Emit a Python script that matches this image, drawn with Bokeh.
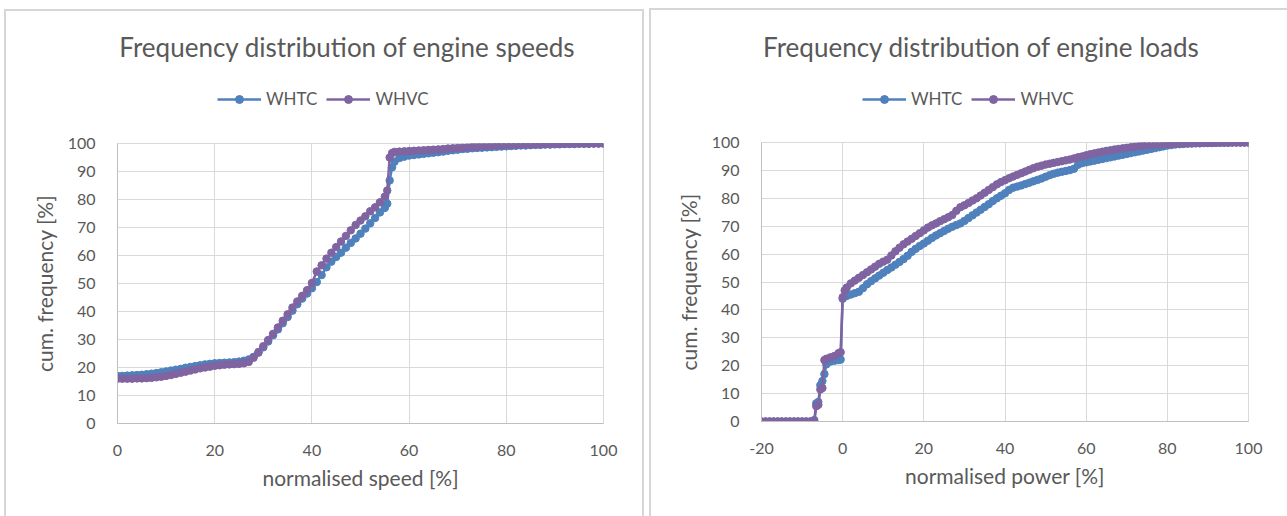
from bokeh.plotting import figure
from bokeh.layouts import row, column
from bokeh.models import (Range1d, SingleIntervalTicker, Legend, LegendItem, Label,
                          InlineStyleSheet)
from bokeh.embed import file_html
from bokeh.resources import INLINE

# ---------------- data ----------------
series_names = ["WHTC", "WHVC"]
titles = ["Frequency distribution of engine speeds", "Frequency distribution of engine loads"]
x_titles = ["normalised speed [%]", "normalised power [%]"]
y_title = "cum. frequency [%]"

speed_x = ([0, 1, 2, 3, 4, 5, 6, 7, 8, 9, 10, 11, 12, 13, 14, 15, 16, 17, 18, 19,
            20, 21, 22, 23, 24, 25, 26, 27, 28, 29, 30, 31, 32, 33, 34, 35, 36, 37, 38, 39,
            40, 41, 42, 43, 44, 45, 46, 47, 48, 49, 50, 51, 52, 53, 54, 55,
            55.5, 56, 56.5, 57,
            58, 59, 60, 61, 62, 63, 64, 65, 66, 67, 68, 69, 70, 71, 72, 73, 74, 75, 76, 77, 78, 79,
            80, 81, 82, 83, 84, 85, 86, 87, 88, 89, 90, 91, 92, 93, 94, 95, 96, 97, 98, 99, 100])

speed_whtc = [17.0, 17.0, 17.1, 17.2, 17.3, 17.4, 17.6, 17.8, 18.0, 18.3,
              18.6, 18.9, 19.2, 19.5, 19.9, 20.2, 20.5, 20.8, 21.1, 21.3,
              21.5, 21.6, 21.7, 21.8, 21.9, 22.1, 22.4, 22.9, 23.8, 25.3,
              27.2, 29.3, 31.5, 33.6, 35.8, 38.0, 40.3, 42.6, 44.6, 46.4,
              48.3, 50.5, 53.0, 55.8, 57.8, 59.5, 61.0, 62.8, 64.5, 66.1,
              67.8, 69.6, 71.5, 73.4, 75.4, 77.0,
              78.5, 86.8, 91.5, 93.5,
              94.8, 95.3, 95.7, 95.9, 96.1, 96.3, 96.5, 96.7, 96.9, 97.1, 97.4, 97.6,
              97.8, 98.0, 98.1, 98.3, 98.4, 98.5, 98.6, 98.7, 98.8, 98.9,
              99.0, 99.1, 99.2, 99.3, 99.3, 99.4, 99.5, 99.5, 99.6, 99.6,
              99.7, 99.7, 99.8, 99.8, 99.8, 99.9, 99.9, 99.9, 100.0, 100.0, 100.0]

speed_whvc = [16.0, 16.0, 16.0, 16.0, 16.1, 16.1, 16.2, 16.3, 16.5, 16.7,
              17.0, 17.3, 17.7, 18.1, 18.5, 18.9, 19.3, 19.7, 20.0, 20.3,
              20.6, 20.8, 21.0, 21.1, 21.2, 21.3, 21.5, 22.0, 23.5, 25.5,
              27.6, 29.8, 32.0, 34.3, 36.7, 39.0, 41.4, 43.6, 45.6, 47.6,
              50.2, 54.3, 56.5, 58.9, 61.0, 63.0, 65.0, 67.0, 69.0, 70.9,
              72.5, 74.0, 75.8, 77.2, 79.0, 81.0,
              83.2, 95.0, 96.6, 97.0,
              97.1, 97.2, 97.3, 97.4, 97.5, 97.6, 97.7, 97.8, 97.9, 98.0, 98.2, 98.3,
              98.4, 98.5, 98.6, 98.8, 98.9, 99.0, 99.1, 99.2, 99.3, 99.4,
              99.5, 99.5, 99.6, 99.6, 99.7, 99.7, 99.8, 99.8, 99.8, 99.9,
              99.9, 99.9, 99.9, 100.0, 100.0, 100.0, 100.0, 100.0, 100.0, 100.0, 100.0]

power_x = ([-20, -19, -18, -17, -16, -15, -14, -13, -12, -11, -10, -9, -8, -7,
            -6.5, -6, -5.5, -5, -4.5, -4, -3, -2, -1, -0.5, 0, 0.5,
            1, 2, 3, 4, 5, 6, 7, 8, 9, 10, 11, 12, 13, 14, 15, 16, 17, 18, 19, 20,
            21, 22, 23, 24, 25, 26, 27, 28, 29, 30, 31, 32, 33, 34, 35, 36, 37, 38, 39, 40,
            41, 42, 43, 44, 45, 46, 47, 48, 49, 50, 51, 52, 53, 54, 55, 56, 57, 58, 59, 60,
            61, 62, 63, 64, 65, 66, 67, 68, 69, 70, 71, 72, 73, 74, 75, 76, 77, 78, 79, 80,
            81, 82, 83, 84, 85, 86, 87, 88, 89, 90, 91, 92, 93, 94, 95, 96, 97, 98, 99, 100])

power_whtc = [0, 0, 0, 0, 0, 0, 0, 0, 0, 0, 0, 0, 0, 0.5,
              6.5, 7.0, 13.0, 14.5, 17.0, 20.5, 21.5, 21.8, 22.0, 22.2, 44.0, 44.8,
              45.0, 45.5, 46.0, 46.5, 47.8, 49.2, 50.3, 51.3, 52.3, 53.3,
              54.3, 55.2, 56.2, 57.2, 58.2, 59.4, 60.8, 61.9, 62.9, 63.8,
              64.8, 65.8, 66.7, 67.5, 68.3, 69.1, 69.8, 70.4, 71.0, 71.9,
              72.9, 73.9, 74.9, 75.9, 76.9, 77.9, 79.0, 80.0, 80.9, 81.8,
              83.0, 83.8, 84.2, 84.6, 85.1, 85.6, 86.1, 86.6, 87.1, 87.7,
              88.3, 88.8, 89.2, 89.5, 89.8, 90.1, 90.6, 92.0, 92.6, 92.9,
              93.2, 93.5, 93.8, 94.1, 94.4, 94.7, 95.0, 95.3, 95.6, 95.9,
              96.2, 96.5, 96.8, 97.1, 97.4, 97.7, 98.0, 98.3, 98.6, 98.9,
              99.1, 99.3, 99.4, 99.5, 99.6, 99.6, 99.7, 99.7, 99.8, 99.8,
              99.8, 99.9, 99.9, 99.9, 99.9, 100.0, 100.0, 100.0, 100.0, 100.0]

power_whvc = [0, 0, 0, 0, 0, 0, 0, 0, 0, 0, 0, 0, 0, 0,
              5.5, 6.0, 11.5, 12.0, 22.0, 22.5, 23.0, 23.5, 24.5, 24.8, 44.5, 47.0,
              48.0, 49.5, 50.5, 51.5, 52.5, 53.5, 54.5, 55.5, 56.5, 57.3,
              58.0, 59.5, 61.0, 62.3, 63.5, 64.5, 65.5, 66.5, 67.5, 68.5,
              69.5, 70.3, 71.0, 71.8, 72.5, 73.2, 74.0, 75.5, 76.8, 77.5,
              78.3, 79.2, 80.0, 81.0, 82.0, 83.0, 84.0, 85.0, 85.8, 86.5,
              87.2, 87.8, 88.4, 89.0, 89.6, 90.2, 90.8, 91.3, 91.7, 92.1,
              92.4, 92.7, 93.0, 93.3, 93.6, 93.9, 94.3, 94.7, 95.0, 95.4,
              95.8, 96.1, 96.4, 96.7, 97.0, 97.2, 97.5, 97.7, 97.9, 98.1,
              98.3, 98.5, 98.7, 98.8, 99.0, 99.1, 99.2, 99.3, 99.4, 99.5,
              99.5, 99.6, 99.6, 99.7, 99.7, 99.8, 99.8, 99.8, 99.9, 99.9,
              99.9, 99.9, 100.0, 100.0, 100.0, 100.0, 100.0, 100.0, 100.0, 100.0]

assert len(speed_x) == len(speed_whtc) == len(speed_whvc)
assert len(power_x) == len(power_whtc) == len(power_whvc)

# ---------------- style ----------------
COLORS = ["#4F81BD", "#8064A2"]
TEXT = "#595959"
GRID = "#D9D9D9"
AXIS = "#BFBFBF"
FONT = "Lato"
HEAD_H = 125          # height of the heading strip (title + legend)
TOTAL_H = 516
BODY_H = TOTAL_H - HEAD_H
OFF = 1000            # heading y-range sits far above the data so the series stay hidden there


def box_css(left, top, width, height, sides_off):
    off = " ".join(f"border-{s}: none;" for s in sides_off)
    return (f":host::after {{ content: ''; position: absolute; left: {left}px; top: {top}px; "
            f"width: {width}px; height: {height}px; border: 2px solid #D6D6D6; {off} "
            f"box-sizing: border-box; pointer-events: none; z-index: 10; }}")


def make_heading(width, frame_w, x, ys, title_text, title_cx, legend_left, css):
    # the column aligns this strip's frame with the chart frame below it
    h = figure(width=width, height=HEAD_H, output_backend="svg", toolbar_location=None,
               x_range=Range1d(0, frame_w), y_range=Range1d(OFF, OFF + HEAD_H),
               x_axis_location=None, y_axis_location=None,
               min_border_left=0, min_border_right=0, min_border_top=0, min_border_bottom=0,
               stylesheets=[InlineStyleSheet(css=css)])
    h.grid.visible = False
    h.outline_line_color = None
    h.background_fill_color = "white"
    h.border_fill_color = "white"
    h.add_layout(Label(x=title_cx, y=OFF + HEAD_H - 46, text=title_text, text_align="center",
                       text_baseline="middle", text_font=FONT, text_font_size="26px",
                       text_color=TEXT))
    items = []
    for name, yv, c in zip(series_names, ys, COLORS):
        ln = h.line(x, yv, line_color=c, line_width=2.5)
        sc = h.scatter(x, yv, size=7.5, fill_color=c, line_color=c)
        items.append(LegendItem(label=name, renderers=[ln, sc]))
    leg = Legend(items=items, orientation="horizontal", location=(legend_left, HEAD_H - 109),
                 glyph_width=44, glyph_height=20, label_height=20, label_standoff=5,
                 spacing=9, padding=0, margin=0, border_line_color=None,
                 background_fill_alpha=0, label_text_font=FONT,
                 label_text_font_size="17px", label_text_color=TEXT)
    h.add_layout(leg, "center")
    return h


def make_chart(x, ys, x_range, x_title, width, b_left, b_right, b_top, b_bottom, css):
    p = figure(width=width, height=BODY_H, output_backend="svg",
               toolbar_location=None,
               x_range=Range1d(*x_range), y_range=Range1d(0, 100),
               min_border_left=b_left, min_border_right=b_right,
               min_border_top=b_top, min_border_bottom=b_bottom,
               stylesheets=[InlineStyleSheet(css=css)])
    p.background_fill_color = "white"
    p.border_fill_color = "white"
    p.outline_line_color = GRID
    p.outline_line_width = 1

    p.xaxis.ticker = SingleIntervalTicker(interval=20)
    p.yaxis.ticker = SingleIntervalTicker(interval=10)
    p.xaxis.major_label_overrides = {-20: "-20"}
    for ax in (p.xaxis[0], p.yaxis[0]):
        ax.axis_line_color = AXIS
        ax.axis_line_width = 1
        ax.major_tick_line_color = None
        ax.minor_tick_line_color = None
        ax.major_tick_out = 0
        ax.major_tick_in = 0
        ax.major_label_text_font = FONT
        ax.major_label_text_font_size = "16px"
        ax.major_label_text_color = TEXT
        ax.axis_label_text_font = FONT
        ax.axis_label_text_font_size = "21px"
        ax.axis_label_text_font_style = "normal"
        ax.axis_label_text_color = TEXT
    p.xaxis.major_label_standoff = 17
    p.yaxis.major_label_standoff = 18
    p.xaxis.axis_label = x_title
    p.yaxis.axis_label = y_title
    p.xaxis.axis_label_standoff = 6
    p.yaxis.axis_label_standoff = 8
    p.xgrid.grid_line_color = GRID
    p.ygrid.grid_line_color = GRID

    for yv, c in zip(ys, COLORS):
        p.line(x, yv, line_color=c, line_width=2.5)
        p.scatter(x, yv, size=7.5, fill_color=c, line_color=c)
    return p


# left chart: frame x 117..603, y 143..423
h1 = make_heading(646, 646 - 117 - 43, speed_x, [speed_whtc, speed_whvc], titles[0], 230, 100,
                  box_css(4, 9, 640, HEAD_H - 9, ["bottom"]))
p1 = make_chart(speed_x, [speed_whtc, speed_whvc], (0, 100), x_titles[0],
                646, 117, 43, 143 - HEAD_H, 93,
                box_css(4, 0, 640, BODY_H, ["top", "bottom"]))
# right chart: frame x 761..1248, y 142..421
h2 = make_heading(641, 641 - 115 - 39, power_x, [power_whtc, power_whvc], titles[1], 220, 101,
                  box_css(3, 8, 650, HEAD_H - 8, ["bottom", "right"]))
p2 = make_chart(power_x, [power_whtc, power_whvc], (-20, 100), x_titles[1],
                641, 115, 39, 142 - HEAD_H, 95,
                box_css(3, 0, 650, BODY_H, ["top", "bottom", "right"]))

layout = row(column(h1, p1), column(h2, p2))
open("out.html", "w").write(file_html(layout, INLINE))
